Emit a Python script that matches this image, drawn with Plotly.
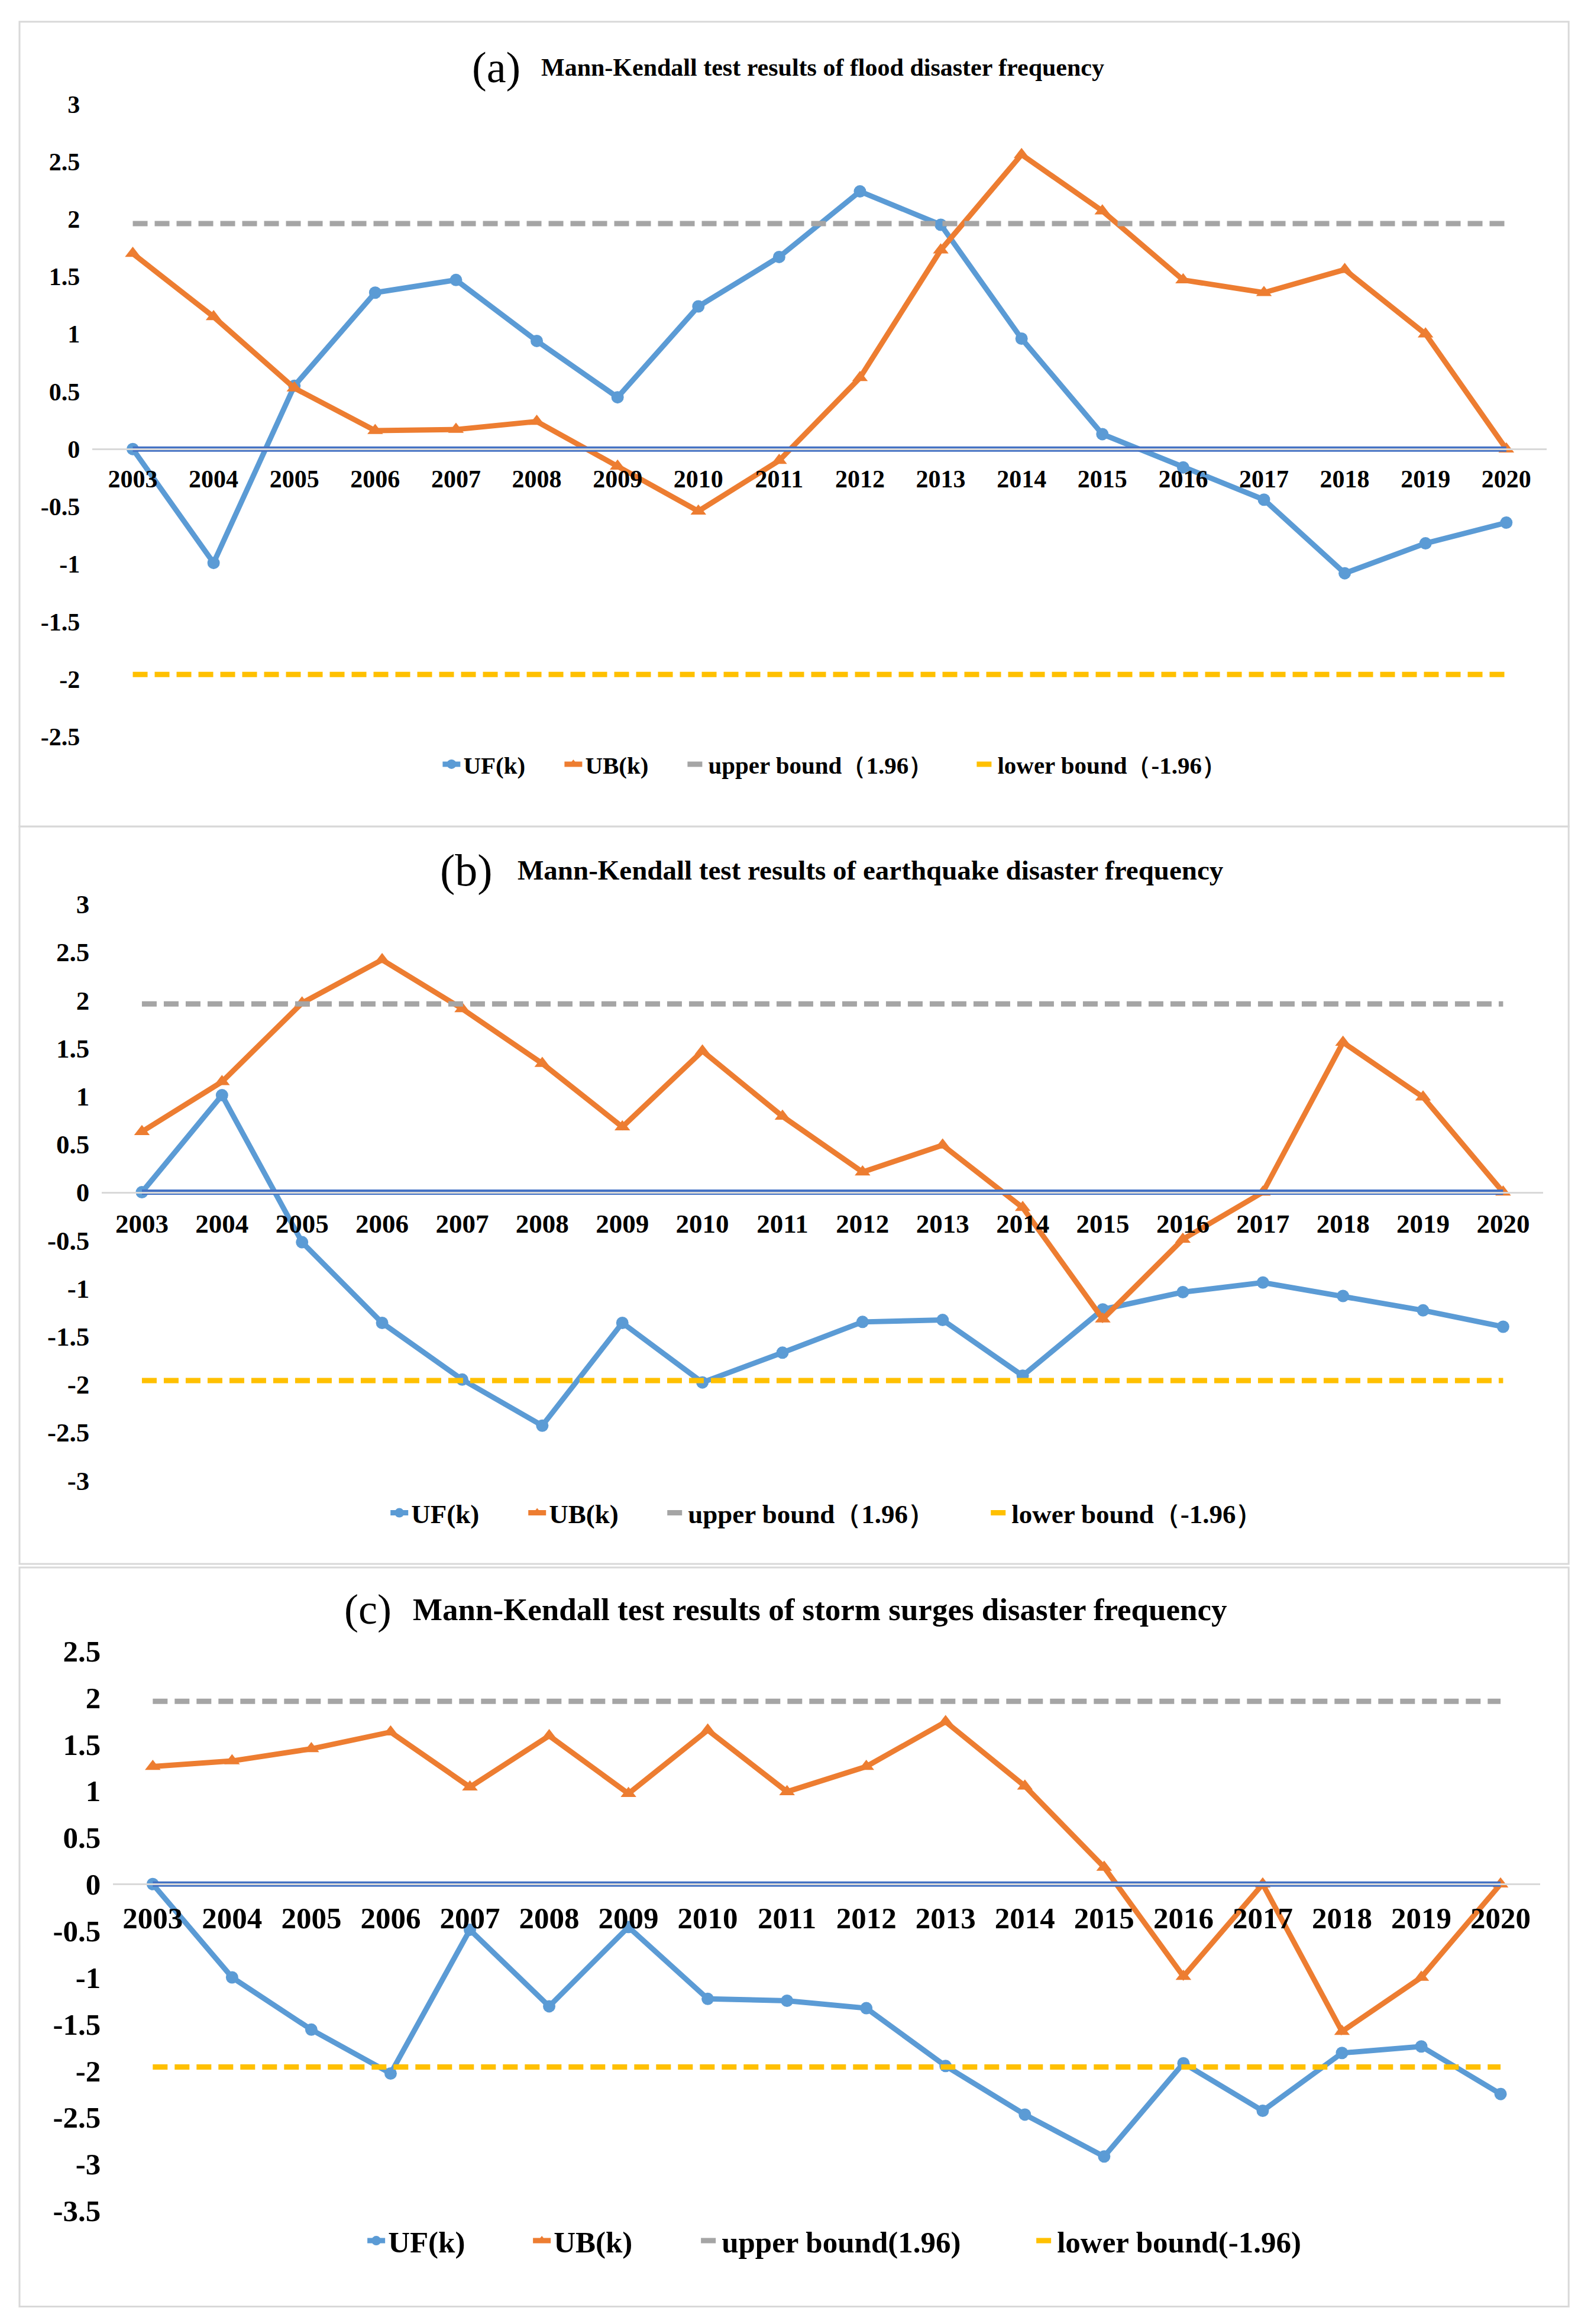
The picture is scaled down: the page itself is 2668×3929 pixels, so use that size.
import plotly.graph_objects as go

# ---------------- data ----------------
years = ["2003", "2004", "2005", "2006", "2007", "2008", "2009", "2010", "2011",
         "2012", "2013", "2014", "2015", "2016", "2017", "2018", "2019", "2020"]

uf_flood = [0.00, -0.99, 0.55, 1.36, 1.47, 0.94, 0.45, 1.24, 1.67,
            2.24, 1.95, 0.96, 0.13, -0.16, -0.44, -1.08, -0.82, -0.64]
ub_flood = [1.70, 1.15, 0.53, 0.16, 0.17, 0.24, -0.15, -0.54, -0.10,
            0.62, 1.73, 2.56, 2.07, 1.47, 1.36, 1.56, 1.00, 0.00]

uf_quake = [0.00, 1.01, -0.52, -1.36, -1.95, -2.43, -1.36, -1.98, -1.67,
            -1.35, -1.33, -1.91, -1.22, -1.04, -0.94, -1.08, -1.23, -1.40]
ub_quake = [0.63, 1.15, 1.97, 2.42, 1.91, 1.34, 0.68, 1.47, 0.79,
            0.21, 0.49, -0.16, -1.32, -0.49, 0.00, 1.56, 0.99, 0.00]

uf_storm = [0.00, -1.00, -1.56, -2.03, -0.49, -1.31, -0.46, -1.23, -1.25,
            -1.33, -1.95, -2.47, -2.92, -1.92, -2.43, -1.81, -1.74, -2.25]
ub_storm = [1.26, 1.32, 1.45, 1.63, 1.04, 1.59, 0.97, 1.65, 0.99,
            1.26, 1.74, 1.05, 0.18, -0.99, 0.00, -1.58, -1.00, 0.00]

upper_bound = [1.96, 1.96, 1.96, 1.96, 1.96, 1.96, 1.96, 1.96, 1.96,
               1.96, 1.96, 1.96, 1.96, 1.96, 1.96, 1.96, 1.96, 1.96]
lower_bound = [-1.96, -1.96, -1.96, -1.96, -1.96, -1.96, -1.96, -1.96, -1.96,
               -1.96, -1.96, -1.96, -1.96, -1.96, -1.96, -1.96, -1.96, -1.96]
zero_series = [0, 0, 0, 0, 0, 0, 0, 0, 0, 0, 0, 0, 0, 0, 0, 0, 0, 0]

yticks_a = [3, 2.5, 2, 1.5, 1, 0.5, 0, -0.5, -1, -1.5, -2, -2.5]
ylabels_a = ["3", "2.5", "2", "1.5", "1", "0.5", "0", "-0.5", "-1", "-1.5", "-2", "-2.5"]
yticks_b = [3, 2.5, 2, 1.5, 1, 0.5, 0, -0.5, -1, -1.5, -2, -2.5, -3]
ylabels_b = ["3", "2.5", "2", "1.5", "1", "0.5", "0", "-0.5", "-1", "-1.5", "-2", "-2.5", "-3"]
yticks_c = [2.5, 2, 1.5, 1, 0.5, 0, -0.5, -1, -1.5, -2, -2.5, -3, -3.5]
ylabels_c = ["2.5", "2", "1.5", "1", "0.5", "0", "-0.5", "-1", "-1.5", "-2", "-2.5", "-3", "-3.5"]

titles = ["Mann-Kendall test results of flood disaster frequency",
          "Mann-Kendall test results of earthquake disaster frequency",
          "Mann-Kendall test results of storm surges disaster frequency"]
letters = ["(a)", "(b)", "(c)"]
legend_names = [
    ["UF(k)", "UB(k)", "upper bound\uff081.96\uff09", "lower bound\uff08-1.96\uff09"],
    ["UF(k)", "UB(k)", "upper bound\uff081.96\uff09", "lower bound\uff08-1.96\uff09"],
    ["UF(k)", "UB(k)", "upper bound(1.96)", "lower bound(-1.96)"],
]

# ---------------- styling / layout ----------------
W, H = 2668, 3929
OFF = 8  # default page body margin
FONT = "Liberation Serif"
C_UF, C_UB, C_UP, C_LO, C_ZERO = "#5B9BD5", "#ED7D31", "#A5A5A5", "#FFC000", "#4472C4"


def px_x(p):
    q = 1.002 * p - 0.1
    return (q - OFF) / W


def px_y(p):
    q = 1.0149 * p - 29.8
    return 1 - (q - OFF) / H


panels = [
    dict(uf=uf_flood, ub=ub_flood, rng=[-2.5, 3], tv=yticks_a, tt=ylabels_a,
         xd=[px_x(156), px_x(2610)], yd=[px_y(1247), px_y(178)],
         tick=42, leg=41, tsize=42, lsize=74,
         title_y=116, letter_x=837, title_x=1388,
         leg_x=742, leg_y=1294, lw=[161, 163, 444, None], box=[33, 39, 2647, 1399]),
    dict(uf=uf_quake, ub=ub_quake, rng=[-3, 3], tv=yticks_b, tt=ylabels_b,
         xd=[px_x(172), px_x(2604)], yd=[px_y(2504), px_y(1530)],
         tick=45, leg=45, tsize=47, lsize=76,
         title_y=1473, letter_x=787, title_x=1469,
         leg_x=654, leg_y=2559, lw=[188, 190, 502, None], box=[33, 1399, 2647, 2645]),
    dict(uf=uf_storm, ub=ub_storm, rng=[-3.5, 2.5], tv=yticks_c, tt=ylabels_c,
         xd=[px_x(191), px_x(2599)], yd=[px_y(3738), px_y(2792)],
         tick=51, leg=51, tsize=53, lsize=72,
         title_y=2722, letter_x=621, title_x=1383,
         leg_x=615, leg_y=3789, lw=[235, 239, 522, None], box=[33, 2651, 2647, 3900]),
]

fig = go.Figure()
layout = dict(width=W, height=H, margin=dict(l=0, r=0, t=0, b=0),
              paper_bgcolor="white", plot_bgcolor="white",
              showlegend=True, annotations=[], shapes=[])

for i, p in enumerate(panels):
    sfx = "" if i == 0 else str(i + 1)
    xa, ya = "x" + sfx, "y" + sfx
    lg = "legend" + sfx
    names = legend_names[i]
    lw = p["lw"]
    fig.add_trace(go.Scatter(x=years, y=p["uf"], name=names[0], xaxis=xa, yaxis=ya, legend=lg,
                             legendwidth=lw[0],
                             mode="lines+markers", line=dict(color=C_UF, width=9),
                             marker=dict(symbol="circle", size=21, color=C_UF)))
    fig.add_trace(go.Scatter(x=years, y=p["ub"], name=names[1], xaxis=xa, yaxis=ya, legend=lg,
                             legendwidth=lw[1],
                             mode="lines+markers", line=dict(color=C_UB, width=9),
                             marker=dict(symbol="triangle-up", size=23, color=C_UB)))
    fig.add_trace(go.Scatter(x=years, y=upper_bound, name=names[2], xaxis=xa, yaxis=ya, legend=lg,
                             legendwidth=lw[2],
                             mode="lines", line=dict(color=C_UP, width=9, dash="25px,12px")))
    fig.add_trace(go.Scatter(x=years, y=lower_bound, name=names[3], xaxis=xa, yaxis=ya, legend=lg,
                             mode="lines", line=dict(color=C_LO, width=9, dash="25px,12px")))
    fig.add_trace(go.Scatter(x=years, y=zero_series, xaxis=xa, yaxis=ya, showlegend=False,
                             mode="lines", line=dict(color=C_ZERO, width=9)))

    ymin, ymax = p["rng"]
    zero_pos = p["yd"][0] + (0 - ymin) / (ymax - ymin) * (p["yd"][1] - p["yd"][0])
    layout["xaxis" + sfx] = dict(
        domain=p["xd"], type="category", categoryorder="array", categoryarray=years,
        range=[-0.5, len(years) - 0.5], anchor="free", position=zero_pos,
        showline=True, linecolor="#D9D9D9", linewidth=3, showgrid=False, zeroline=False,
        ticks="", ticklabelstandoff=12,
        tickfont=dict(family=FONT, size=p["tick"], color="black", weight="bold"))
    layout["yaxis" + sfx] = dict(
        domain=p["yd"], range=p["rng"], anchor=xa, showline=False, showgrid=False,
        zeroline=False, ticks="", tickmode="array", tickvals=p["tv"], ticktext=p["tt"],
        ticklabelstandoff=20,
        tickfont=dict(family=FONT, size=p["tick"], color="black", weight="bold"))
    layout[lg] = dict(orientation="h", x=px_x(p["leg_x"]), y=px_y(p["leg_y"]),
                      xanchor="left", yanchor="middle", bgcolor="rgba(0,0,0,0)",
                      font=dict(family=FONT, size=p["leg"], color="black", weight="bold"),
                      itemwidth=30, tracegroupgap=0)

    layout["annotations"].append(dict(
        text=letters[i], x=px_x(p["letter_x"]), y=px_y(p["title_y"]), xref="paper", yref="paper",
        xanchor="center", yanchor="middle", showarrow=False,
        font=dict(family=FONT, size=p["lsize"], color="black")))
    layout["annotations"].append(dict(
        text="<b>" + titles[i] + "</b>", x=px_x(p["title_x"]), y=px_y(p["title_y"]),
        xref="paper", yref="paper", xanchor="center", yanchor="middle", showarrow=False,
        font=dict(family=FONT, size=p["tsize"], color="black")))

    x0, y0, x1, y1 = p["box"]
    layout["shapes"].append(dict(type="rect", xref="paper", yref="paper",
                                 x0=px_x(x0), x1=px_x(x1), y0=px_y(y1), y1=px_y(y0),
                                 line=dict(color="#D9D9D9", width=3), layer="below"))

fig.update_layout(**layout)
fig.write_html("out.html")
